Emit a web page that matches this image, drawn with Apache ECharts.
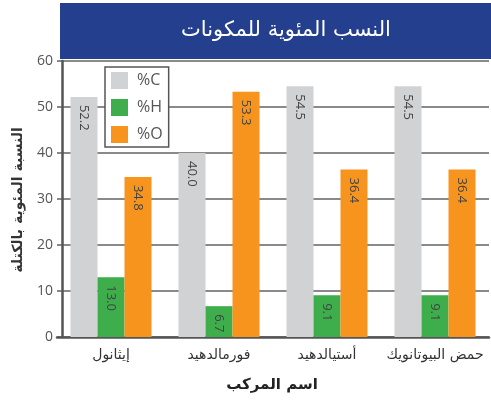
<!DOCTYPE html>
<html>
<head>
<meta charset="utf-8">
<script src="https://cdn.jsdelivr.net/npm/echarts@6/dist/echarts.min.js"></script>
<style>
  html, body { margin: 0; padding: 0; background: #fff; }
  #chart { width: 491px; height: 403px; }
</style>
</head>
<body>
<div id="chart"></div>
<script>
// Compounds and their mass percentages of carbon, hydrogen and oxygen
const compounds = ['إيثانول', 'فورمالدهيد', 'أستيالدهيد', 'حمض البيوتانويك'];
const carbon = [52.2, 40.0, 54.5, 54.5];
const hydrogen = [13.0, 6.7, 9.1, 9.1];
const oxygen = [34.8, 53.3, 36.4, 36.4];
const seriesNames = ['%C', '%H', '%O'];
const yTicks = { min: 0, max: 60, step: 10 };

const titleText = 'النسب المئوية للمكونات';
const yName = 'النسبة المئوية بالكتلة';
const xName = 'اسم المركب';

const arabicFont = '"DejaVu Sans", sans-serif';
const latinFont = '"Open Sans", "DejaVu Sans", sans-serif';
const colors = ['#d1d2d4', '#3dae4b', '#f7941e'];

const chart = echarts.init(document.getElementById('chart'));

function barSeries(name, values, color) {
  return {
    name: name,
    type: 'bar',
    data: values,
    barWidth: 27,
    barGap: '0%',
    itemStyle: { color: color },
    label: {
      show: true,
      position: 'insideTop',
      rotate: -90,
      distance: 8,
      align: 'left',
      verticalAlign: 'middle',
      formatter: p => p.value.toFixed(1),
      color: '#444',
      fontFamily: latinFont,
      fontSize: 13
    }
  };
}

chart.setOption({
  animation: false,
  backgroundColor: '#fff',
  graphic: [
    {
      type: 'rect',
      shape: { x: 60, y: 3, width: 431, height: 56 },
      style: { fill: '#243f8e' },
      z: 0
    },
    {
      type: 'text',
      x: 286,
      y: 31,
      style: {
        text: titleText,
        fill: '#fff',
        font: '21px ' + arabicFont,
        align: 'center',
        verticalAlign: 'middle'
      },
      z: 1
    },
    {
      type: 'text',
      x: 18,
      y: 200,
      rotation: Math.PI / 2,
      style: {
        text: yName,
        fill: '#333',
        font: 'bold 14px ' + arabicFont,
        align: 'center',
        verticalAlign: 'middle'
      }
    },
    {
      type: 'text',
      x: 272,
      y: 385,
      style: {
        text: xName,
        fill: '#222',
        font: 'bold 15px ' + arabicFont,
        align: 'center',
        verticalAlign: 'middle'
      }
    }
  ],
  legend: {
    data: seriesNames,
    orient: 'vertical',
    left: 105,
    top: 67,
    padding: [5, 6, 4, 6],
    itemWidth: 17,
    itemHeight: 17,
    itemGap: 10,
    icon: 'rect',
    backgroundColor: '#fff',
    borderColor: '#555',
    borderWidth: 1.5,
    borderRadius: 0,
    textStyle: { color: '#555', fontSize: 16, fontFamily: latinFont, padding: [0, 0, 0, 4] },
    z: 10
  },
  grid: { left: 57, right: 2, top: 61, bottom: 66 },
  xAxis: {
    type: 'category',
    data: compounds,
    axisLine: { show: true, lineStyle: { color: '#555', width: 2.5 } },
    axisTick: { show: false },
    axisLabel: {
      color: '#333',
      fontFamily: arabicFont,
      fontSize: 14,
      margin: 11,
      interval: 0
    }
  },
  yAxis: {
    type: 'value',
    min: yTicks.min,
    max: yTicks.max,
    interval: yTicks.step,
    offset: -5,
    axisLine: { show: true, lineStyle: { color: '#555', width: 2.5 } },
    axisTick: { show: false },
    axisLabel: { color: '#555', fontFamily: latinFont, fontSize: 14, margin: 9 },
    splitLine: { show: true, lineStyle: { color: '#8a8a8a', width: 2 } }
  },
  series: [
    barSeries(seriesNames[0], carbon, colors[0]),
    barSeries(seriesNames[1], hydrogen, colors[1]),
    barSeries(seriesNames[2], oxygen, colors[2])
  ]
});
</script>
</body>
</html>
